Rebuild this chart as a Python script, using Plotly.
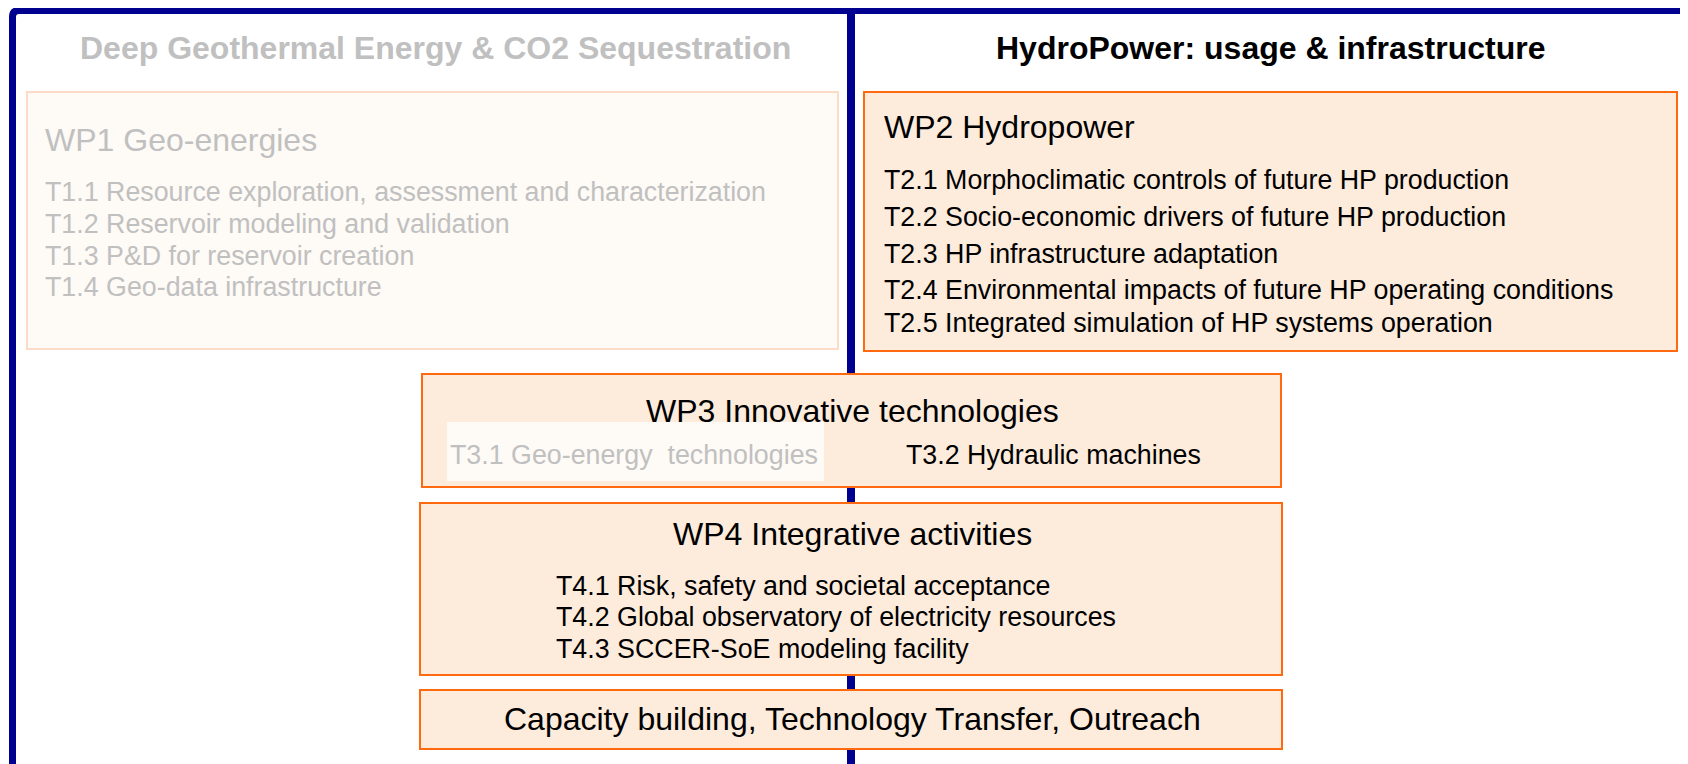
import plotly.graph_objects as go

# ---- content ----
left_title = "Deep Geothermal Energy & CO2 Sequestration"
right_title = "HydroPower: usage & infrastructure"
wp1_title = "WP1 Geo-energies"
wp1_tasks = ["T1.1 Resource exploration, assessment and characterization",
             "T1.2 Reservoir modeling and validation",
             "T1.3 P&D for reservoir creation",
             "T1.4 Geo-data infrastructure"]
wp2_title = "WP2 Hydropower"
wp2_tasks = ["T2.1 Morphoclimatic controls of future HP production",
             "T2.2 Socio-economic drivers of future HP production",
             "T2.3 HP infrastructure adaptation",
             "T2.4 Environmental impacts of future HP operating conditions",
             "T2.5 Integrated simulation of HP systems operation"]
wp3_title = "WP3 Innovative technologies"
wp3_tasks = ["T3.1 Geo-energy  technologies", "T3.2 Hydraulic machines"]
wp4_title = "WP4 Integrative activities"
wp4_tasks = ["T4.1 Risk, safety and societal acceptance",
             "T4.2 Global observatory of electricity resources",
             "T4.3 SCCER-SoE modeling facility"]
bottom_text = "Capacity building, Technology Transfer, Outreach"

W, H = 1688, 764
OFF = 8  # page body margin
BLUE = "#000090"
ORANGE = "#FF6A10"
FILL = "#FDEBDC"
FADE_FILL = "#FEFAF6"
FADE_LINE = "#FCDCC6"
GRAY = "#C0C0C0"
FONT = "Arial, Liberation Sans, sans-serif"

fig = go.Figure()
fig.add_trace(go.Scatter(x=[OFF, W], y=[OFF, H], mode="markers",
                         marker=dict(opacity=0), hoverinfo="skip", showlegend=False))

shapes = []
# blue frame
shapes.append(dict(type="path", path=f"M 12.5 {H} L 12.5 17 Q 12.5 10.5 19 10.5 L 1685 10.5 L 1685 {H}",
                   line=dict(color=BLUE, width=7)))
shapes.append(dict(type="line", x0=851, x1=851, y0=10, y1=H, line=dict(color=BLUE, width=8)))

def box(x0, y0, x1, y1, fill, line, lw=2):
    shapes.append(dict(type="rect", x0=x0, y0=y0, x1=x1, y1=y1,
                       fillcolor=fill, line=dict(color=line, width=lw)))

box(27, 92, 838, 349, FADE_FILL, FADE_LINE)
box(864, 92, 1677, 351, FILL, ORANGE)
box(422, 374, 1281, 487, FILL, ORANGE)
shapes.append(dict(type="rect", x0=447, y0=422, x1=824, y1=481,
                   fillcolor=FADE_FILL, line=dict(width=0)))
box(420, 503, 1282, 675, FILL, ORANGE)
box(420, 690, 1282, 749, FILL, ORANGE)

ann = []
def txt(x, y, s, size, color="#000000", anchor="left", bold=False):
    if anchor == "left":
        x -= 3
    ann.append(dict(x=x, y=y, text=f"<b>{s}</b>" if bold else s, showarrow=False,
                    xanchor=anchor, yanchor="middle",
                    font=dict(family=FONT, size=size, color=color)))

TS = 26.8
txt(435, 48, left_title, 32, GRAY, "center", True)
txt(1270, 48, right_title, 32, "#000000", "center", True)

txt(46, 140, wp1_title, 32, GRAY)
for t, y in zip(wp1_tasks, [192, 224, 256, 287]):
    txt(46, y, t, TS, GRAY)

txt(885, 127, wp2_title, 32)
for t, y in zip(wp2_tasks, [180, 217, 254, 290, 323]):
    txt(885, y, t, TS)

txt(852, 411, wp3_title, 32, anchor="center")
txt(451, 455, wp3_tasks[0], TS, GRAY)
txt(907, 455, wp3_tasks[1], TS)

txt(852, 534, wp4_title, 32, anchor="center")
for t, y in zip(wp4_tasks, [586, 617, 649]):
    txt(557, y, t, TS)

txt(852, 719, bottom_text, 32, anchor="center")

fig.update_layout(
    width=W - OFF, height=H - OFF, margin=dict(l=0, r=0, t=0, b=0),
    paper_bgcolor="white", plot_bgcolor="white",
    xaxis=dict(range=[OFF, W], visible=False, fixedrange=True),
    yaxis=dict(range=[H, OFF], visible=False, fixedrange=True),
    shapes=shapes, annotations=ann, showlegend=False,
)
fig.write_html("out.html", config={"displayModeBar": False})
